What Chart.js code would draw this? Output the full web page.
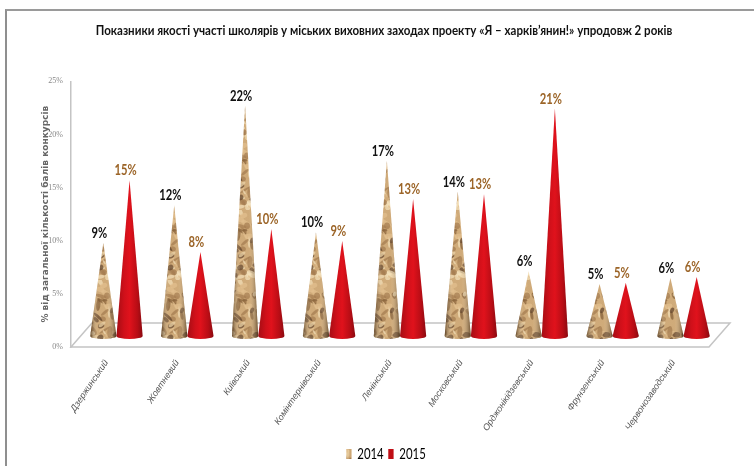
<!DOCTYPE html>
<html><head><meta charset="utf-8">
<script src="https://cdn.jsdelivr.net/npm/chart.js@4"></script>
<style>html,body{margin:0;padding:0;background:#fff;width:754px;height:466px;overflow:hidden}
#frame{position:absolute;left:5px;top:9px;width:749px;height:457px;border-left:2px solid #8f8f8f;border-top:2px solid #9a9a9a;box-sizing:border-box}
#w{position:absolute;left:0;top:0;width:754px;height:466px}</style></head>
<body><div id="frame"></div><div id="w"><canvas id="c" width="754" height="466"></canvas></div>
<script>
const categories=["Дзержинський","Жовтневий","Київський","Комінтернівський","Ленінський","Московський","Орджонікідзевський","Фрунзенський","Червонозаводський"];
const values2014=[9,12,22,10,17,14,6,5,6];
const values2015=[15,8,10,9,13,13,21,5,6];
const heights2014=[8.74,12.3,21.7,9.77,16.5,13.6,6.1,4.9,5.45];
const heights2015=[14.66,7.9,10.06,8.93,12.9,13.35,21.4,5.0,5.55];
const yTicks=[0,5,10,15,20,25];
const titleText="Показники якості участі школярів у міських виховних заходах проекту «Я – харків’янин!» упродовж 2 років";
const axisTitle="% від загальної кількості балів конкурсів";
const LATO="Lato,'Liberation Sans',sans-serif";

function hash(i){const s=Math.sin(i*12.9898)*43758.5453;return s-Math.floor(s);}
function texture(){
  const t=document.createElement('canvas');t.width=70;t.height=70;const g=t.getContext('2d');
  g.fillStyle='#cda775';g.fillRect(0,0,70,70);
  const cols=['#7d5730','#ecd2a6','#a0764a','#f3dfb8','#5a3c24','#e0bd8a'];
  for(let i=0;i<150;i++){
    g.fillStyle=cols[i%6];g.globalAlpha=.72;
    g.beginPath();g.ellipse(hash(i)*70,hash(i+300)*70,1.5+hash(i+600)*5,.8+hash(i+900)*2.2,hash(i+1200)*3,0,7);g.fill();
  }
  return t;
}
const tex=texture();
const ctx0=document.getElementById('c').getContext('2d');
const texPattern=ctx0.createPattern(tex,'repeat');

const OFFX=10,OFFY=-11;
function cone(ctx,cx,apex,base,hw,kind){
  const ry=3;
  ctx.save();
  ctx.beginPath();ctx.moveTo(cx,apex);ctx.lineTo(cx+hw,base);
  ctx.ellipse(cx,base,hw,ry,0,0,Math.PI);ctx.lineTo(cx,apex);ctx.closePath();
  ctx.clip();
  if(kind===0){
    ctx.fillStyle=texPattern;ctx.fillRect(cx-hw-1,apex-1,2*hw+2,base-apex+6);
    const g=ctx.createLinearGradient(cx-hw,0,cx+hw,0);
    g.addColorStop(0,'rgba(60,38,16,.7)');g.addColorStop(.3,'rgba(255,240,210,.05)');g.addColorStop(.65,'rgba(255,240,210,.05)');g.addColorStop(1,'rgba(60,38,16,.7)');
    ctx.fillStyle=g;ctx.fillRect(cx-hw-1,apex-1,2*hw+2,base-apex+6);
  }else{
    const g=ctx.createLinearGradient(cx-hw,0,cx+hw,0);
    g.addColorStop(0,'#a50d14');g.addColorStop(.3,'#d0101a');g.addColorStop(.5,'#e0121c');g.addColorStop(.8,'#b80d15');g.addColorStop(1,'#8a0a10');
    ctx.fillStyle=g;ctx.fillRect(cx-hw-1,apex-1,2*hw+2,base-apex+6);
  }
  ctx.restore();
}
function squeeze(box,sx,dx,dy){
  if(!box||box._sq)return;box._sq=true;
  const orig=box.draw.bind(box);
  box.draw=function(...args){
    const c=box.ctx,cx=(box.left+box.right)/2;
    c.save();c.translate(cx+dx,dy);c.scale(sx,1);c.translate(-cx,0);orig(...args);c.restore();
  };
}
const conePlugin={id:'cones',
  beforeDraw(chart){
    squeeze(chart.titleBlock,.838,0,0);
    squeeze(chart.legend,.76,2,5.5);
  },
  beforeDatasetsDraw(chart){
    const c=chart.ctx,a=chart.chartArea,y0=chart.scales.y.getPixelForValue(0);
    c.save();
    c.strokeStyle='#c4c4c4';c.lineWidth=1.5;c.fillStyle='#fff';
    c.beginPath();c.moveTo(a.left,y0);c.lineTo(a.left+21,y0-24);c.lineTo(a.right+21,y0-24);c.lineTo(a.right,y0);c.closePath();c.fill();c.stroke();
    c.restore();
  },
  afterDatasetsDraw(chart){
    const c=chart.ctx;
    [0,1].forEach(d=>{
      const meta=chart.getDatasetMeta(d);
      meta.data.forEach((el,i)=>{
        const p=el.getProps(['x','y','base','width'],true);
        const cx=p.x+OFFX;
        cone(c,cx,p.y+OFFY,p.base+OFFY,p.width/2,d);
        c.save();
        c.translate(cx-4,p.y+OFFY-10);c.scale(.7,1);
        c.font="bold 16px "+LATO;c.textAlign='center';c.textBaseline='middle';
        c.fillStyle=d===0?'#111':'#9c6528';
        c.fillText((d===0?values2014:values2015)[i]+'%',0,0);
        c.restore();
      });
    });
  }};
new Chart(ctx0,{type:'bar',
  data:{labels:categories,datasets:[
    {label:'2014',data:heights2014,backgroundColor:'rgba(0,0,0,0)',barPercentage:1,categoryPercentage:.74,yAxisID:'y'},
    {label:'2015',data:heights2015,backgroundColor:'rgba(0,0,0,0)',barPercentage:1,categoryPercentage:.74,yAxisID:'y'}]},
  plugins:[conePlugin],
  options:{responsive:false,animation:false,
    layout:{padding:{left:40,right:26,top:0,bottom:0}},
    plugins:{
      tooltip:{enabled:false},
      title:{display:true,text:titleText,color:'#111',font:{family:LATO,weight:'bold',size:14},padding:{top:22.5,bottom:42}},
      legend:{position:'bottom',onClick:null,labels:{color:'#222',font:{family:LATO,size:15},boxWidth:7,boxHeight:10,padding:6,
        generateLabels(){return [{text:'2014',fillStyle:texPattern,strokeStyle:'rgba(0,0,0,0)',lineWidth:0,datasetIndex:0},{text:'2015',fillStyle:'#c00d14',strokeStyle:'rgba(0,0,0,0)',lineWidth:0,datasetIndex:1}];}}}
    },
    scales:{
      x:{grid:{display:false,drawTicks:false},border:{display:false},
        afterFit(s){s.height=88;},
        ticks:{color:'#555',font:{family:"'Liberation Sans'",style:'italic',size:9},minRotation:56,maxRotation:56,autoSkip:false,padding:11}},
      y:{min:0,max:25,grid:{display:false,drawTicks:false},border:{display:true,color:'#c4c4c4',width:1.5},
        afterFit(s){s.width=31;},
        title:{display:true,text:axisTitle,color:'#666',font:{family:"'DejaVu Sans'",weight:'bold',size:9},padding:{top:0,bottom:0}},
        ticks:{stepSize:5,color:'#888',padding:8,font:{family:"'Liberation Serif'",size:8},callback:v=>yTicks.includes(v)?v+'%':''}},
      y2:{position:'right',min:0,max:25,grid:{display:false,drawTicks:false},border:{display:false},
        afterFit(s){s.width=19;},ticks:{display:false}}
    }}});
</script></body></html>
